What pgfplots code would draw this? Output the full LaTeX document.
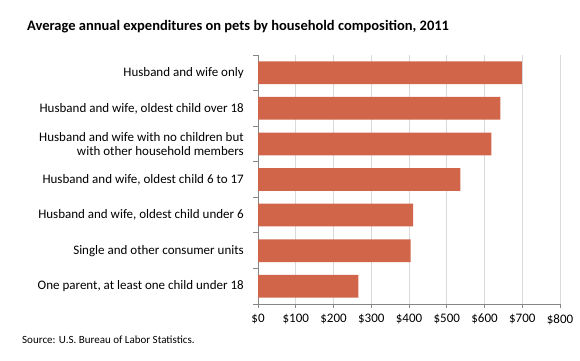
\documentclass[border=0pt]{standalone}
\usepackage{fontspec}
\setmainfont{Carlito}
\usepackage{pgfplots}
\pgfplotsset{compat=1.18}
\definecolor{barc}{RGB}{209,101,74}
\definecolor{axc}{RGB}{134,134,134}
\definecolor{gridc}{RGB}{217,217,217}
\begin{document}
\begin{tikzpicture}[x=1bp,y=1bp]
\useasboundingbox (0,0) rectangle (580,360);
\node[anchor=base west,inner sep=0pt,font=\fontsize{14.5bp}{17bp}\selectfont\bfseries] at (27,330) {Average annual expenditures on pets by household composition, 2011};
\node[anchor=base west,inner sep=0pt,font=\fontsize{11bp}{13bp}\selectfont] at (22,17) {Source: U.S. Bureau of Labor Statistics.};
\begin{axis}[
  at={(258bp,56bp)}, anchor=south west,
  width=302bp, height=249bp, scale only axis,
  xbar, bar width=0.64,
  xmin=0, xmax=800,
  ymin=-0.5, ymax=6.5,
  axis lines*=left,
  axis line style={axc, line width=0.8pt},
  xtick={0,100,...,800},
  xticklabel={\$\pgfmathprintnumber{\tick}},
  xmajorgrids, grid style={gridc, line width=0.6pt},
  tick style={axc, line width=0.8pt},
  xtick align=outside, major tick length=4bp,
  ytick={0,...,6},
  yticklabels={{One parent, at least one child under 18},{Single and other consumer units},{Husband and wife, oldest child under 6},{Husband and wife, oldest child 6 to 17},{Husband and wife with no children but\\with other household members},{Husband and wife, oldest child over 18},{Husband and wife only}},
  ytick style={draw=none},
  extra y ticks={-0.5,0.5,...,6.5},
  extra y tick labels={},
  extra y tick style={ytick style={draw=axc, line width=0.8pt}, ytick align=outside, major tick length=5bp, grid=none},
  yticklabel style={align=right, inner sep=0pt, xshift=-10bp, font=\fontsize{13bp}{14bp}\selectfont},
  xticklabel style={inner sep=0pt, yshift=-6bp, font=\fontsize{13bp}{15bp}\selectfont},
  /pgf/number format/assume math mode=true,
  tick label style={text=black},
]
\addplot[fill=barc, draw=none] coordinates {(266,0) (404,1) (411,2) (536,3) (618,4) (642,5) (699,6)};
\end{axis}
\end{tikzpicture}
\end{document}
